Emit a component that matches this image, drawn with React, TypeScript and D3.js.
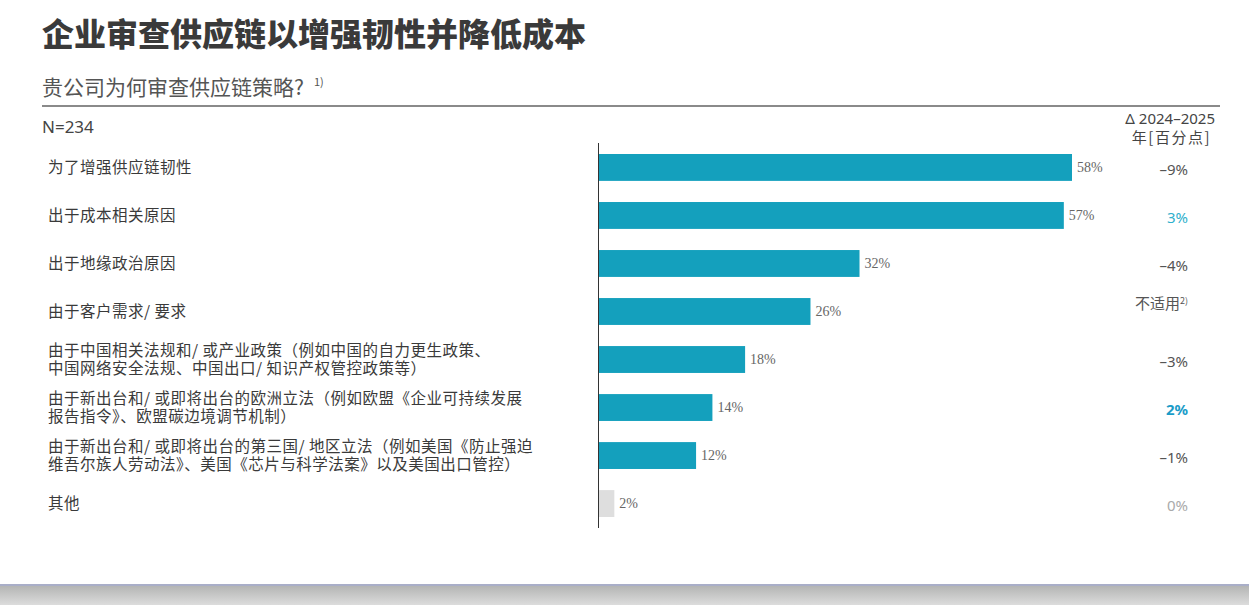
import React from 'react';
import * as d3 from 'd3';

// survey answers, one entry per bar (lines split on \n)
const reasons = [
  '为了增强供应链韧性',
  '出于成本相关原因',
  '出于地缘政治原因',
  '由于客户需求/ 要求',
  '由于中国相关法规和/ 或产业政策（例如中国的自力更生政策、\n中国网络安全法规、中国出口/ 知识产权管控政策等）',
  '由于新出台和/ 或即将出台的欧洲立法（例如欧盟《企业可持续发展\n报告指令》、欧盟碳边境调节机制）',
  '由于新出台和/ 或即将出台的第三国/ 地区立法（例如美国《防止强迫\n维吾尔族人劳动法》、美国《芯片与科学法案》以及美国出口管控）',
  '其他',
];
const shares = [58, 57, 32, 26, 18, 14, 12, 2];
// change vs. previous year in percentage points; null = not applicable
const deltas: (number | null)[] = [-9, 3, -4, null, -3, 2, -1, 0];

const TITLE = '企业审查供应链以增强韧性并降低成本';
const SUBTITLE = '贵公司为何审查供应链策略?';
const SAMPLE = 'N=234';

const W = 1249, H = 605;
const TEAL = '#14a0bd';
const CJK = '"Noto Sans CJK SC", "Noto Sans", sans-serif';
const LATIN = '"Noto Sans", "Open Sans", sans-serif';

function fmtDelta(v: number) {
  return v < 0 ? `–${Math.abs(v)}%` : `${v}%`;
}

export default function App() {
  const x = d3.scaleLinear().domain([0, 58]).range([598, 1072]);
  const y = d3.scaleBand<number>()
    .domain(d3.range(shares.length))
    .range([142, 529])
    .paddingInner(0.44)
    .paddingOuter(0.25);
  const bw = y.bandwidth();
  const last = shares.length - 1;

  return (
    <svg width={W} height={H} style={{ position: 'absolute', left: 0, top: 0, display: 'block', background: '#fff' }}>
      <defs>
        <linearGradient id="edge" x1="0" y1="0" x2="0" y2="1">
          <stop offset="0" stopColor="#b4b5b4" />
          <stop offset="1" stopColor="#dcdcdc" />
        </linearGradient>
      </defs>

      <text x={42} y={46} fontFamily={CJK} fontWeight={900} fontSize={32} fill="#3a3a3a">{TITLE}</text>
      <text x={42} y={95} fontFamily={CJK} fontSize={21} fill="#555">
        {SUBTITLE}
        <tspan dx={10} dy={-9} fontSize={11}>1)</tspan>
      </text>
      <line x1={42} x2={1220} y1={106} y2={106} stroke="#8a8a8a" strokeWidth={2} />
      <text x={42} y={133} fontFamily={LATIN} fontSize={17} fill="#444">{SAMPLE}</text>

      <text x={1215} y={124} textAnchor="end" fontFamily={LATIN} fontSize={15} fill="#444">Δ  2024–2025</text>
      <text x={1211} y={143} textAnchor="end" fontFamily={CJK} fontSize={15} letterSpacing={1.5} fill="#444">年[百分点]</text>

      {shares.map((v, i) => {
        const top = y(i)!;
        const cy = top + bw / 2;
        const lines = reasons[i].split('\n');
        const d = deltas[i];
        const lh = 17.5;
        return (
          <g key={i}>
            <rect x={x(0)} y={top} width={x(v) - x(0)} height={bw} fill={i === last ? '#dedede' : TEAL} />
            <text x={x(v) + 5} y={cy} dy="0.35em" fontFamily="'Liberation Serif', 'DejaVu Serif', serif" fontSize={14} fill="#666">{v}%</text>
            <text x={48} y={cy - (lines.length - 1) / 2 * lh} fontFamily={CJK}
              fontSize={15.5} letterSpacing={0.5} fill="#3a3a3a">
              {lines.map((ln, j) => (
                <tspan key={j} x={48} dy={j === 0 ? '0.36em' : lh}>{ln}</tspan>
              ))}
            </text>
            {d === null ? (
              <text x={1188} y={cy - 8} dy="0.35em" textAnchor="end" fontFamily={CJK} fontSize={15} fill="#555">
                不适用<tspan fontSize={9} dy={-5}>2)</tspan>
              </text>
            ) : (
              <text x={1188} y={cy + 2} dy="0.35em" textAnchor="end" fontFamily={LATIN}
                fontSize={15} fontWeight={i === 5 ? 700 : 400}
                fill={d > 0 ? (i === 5 ? '#1a9cc8' : '#2fb0cc') : d === 0 ? '#aaa' : '#555'}>
                {fmtDelta(d)}
              </text>
            )}
          </g>
        );
      })}

      <line x1={598.5} x2={598.5} y1={143} y2={528} stroke="#333" strokeWidth={1} />

      <rect x={0} y={584} width={W} height={2} fill="#a9aec8" />
      <rect x={0} y={586} width={W} height={19} fill="url(#edge)" />
    </svg>
  );
}
